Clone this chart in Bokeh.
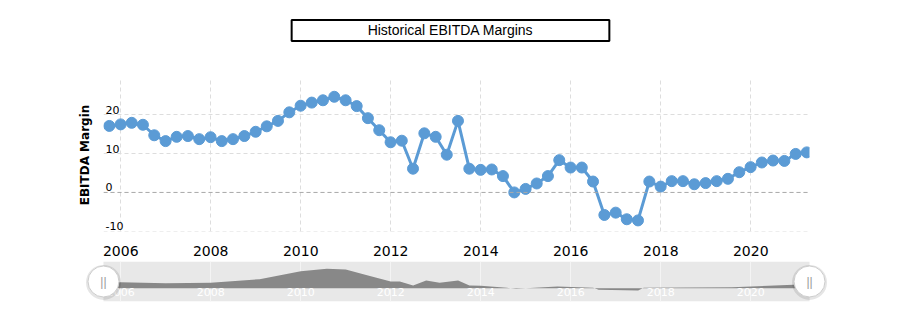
import datetime as dt
from bokeh.plotting import figure
from bokeh.models import (Range1d, FixedTicker, DatetimeTickFormatter, ColumnDataSource,
                          LabelSet, Label, Span, Grid)
from bokeh.core.properties import value
from bokeh.layouts import column, row
from bokeh.embed import file_html
from bokeh.resources import INLINE

# ---------------- data ----------------
first_quarter = (2005, 3)   # Q3 2005
n_quarters = 63
margins = [17.1, 17.5, 17.9, 17.4, 14.7, 13.2, 14.3, 14.5, 13.7, 14.2,
           13.2, 13.7, 14.5, 15.6, 17.0, 18.4, 20.6, 22.3, 23.1, 23.7,
           24.6, 23.7, 22.2, 19.1, 16.0, 12.9, 13.3, 6.1, 15.2, 14.3,
           9.7, 18.4, 6.1, 5.8, 5.9, 4.2, 0.0, 0.9, 2.3, 4.2,
           8.3, 6.4, 6.4, 2.8, -5.8, -5.2, -6.9, -7.2, 2.8, 1.5,
           2.9, 2.9, 2.1, 2.4, 2.9, 3.5, 5.2, 6.5, 7.7, 8.2,
           8.1, 9.9, 10.3]

nav_dates = ["2005-09-30", "2006-01-01", "2007-01-01", "2008-01-01", "2009-02-01",
             "2010-01-01", "2010-08-01", "2011-01-01", "2011-07-01", "2012-01-01",
             "2012-03-15", "2012-07-01", "2012-10-15", "2013-02-01", "2013-07-01",
             "2013-10-01", "2014-01-01", "2014-08-01", "2014-10-15", "2015-01-01",
             "2015-09-15", "2016-07-01", "2016-08-15", "2017-07-01", "2017-08-15",
             "2019-08-01", "2021-02-01", "2021-03-31"]
nav_values = [7.6, 7.6, 6.3, 6.8, 11.5, 21.5, 24.6, 23.7, 16.1, 8.5,
              8.5, 3.4, 9.7, 6.8, 9.7, 3.4, 3.0, 0.5, -0.8, 0.0,
              2.2, 0.5, -2.0, -2.9, 0.5, 1.3, 4.7, 5.3]

y_ticks = [-10, 0, 10, 20]
x_tick_years = [2006, 2008, 2010, 2012, 2014, 2016, 2018, 2020]

title_text = "Historical EBITDA Margins"
y_title = "EBITDA Margin"

# ---------------- helpers ----------------
def quarter_end(year, q):
    month = q * 3
    nxt = dt.datetime(year + (month // 12), (month % 12) + 1, 1)
    return nxt - dt.timedelta(days=1)

dates = []
y0, q0 = first_quarter
for i in range(n_quarters):
    k = (q0 - 1) + i
    dates.append(quarter_end(y0 + k // 4, k % 4 + 1))

nav_dt = [dt.datetime.strptime(s, "%Y-%m-%d") for s in nav_dates]
tick_dt = [dt.datetime(y, 1, 1) for y in x_tick_years]
tick_ms = [(d - dt.datetime(1970, 1, 1)).total_seconds() * 1000 for d in tick_dt]

x_start = dt.datetime(2005, 8, 14)
x_end = dt.datetime(2021, 4, 22)
nav_pad = dt.timedelta(days=146)   # room for the navigator handles

LINE = "#5b9bd5"
FONT = "DejaVu Sans"

# ---------------- title strip ----------------
t = figure(width=902, height=50, x_range=Range1d(0, 1), y_range=Range1d(0, 1),
           x_axis_location=None, y_axis_location=None,
           output_backend="svg", toolbar_location=None, min_border=0,
           outline_line_color=None, background_fill_color="white",
           border_fill_color="white")
t.grid.visible = False
t.add_layout(Label(x=450, y=20, x_units="screen", y_units="screen", text=title_text,
                   text_align="center", text_baseline="middle",
                   text_font="Liberation Sans", text_font_size="14px",
                   text_color="black", border_line_color="black", border_line_width=2,
                   background_fill_color="white",
                   padding=dict(left=76, right=76, top=2, bottom=3)))

# ---------------- main chart ----------------
p = figure(width=902, height=208, x_axis_type="datetime",
           x_range=Range1d(x_start, x_end), y_range=Range1d(-10.05, 29.3),
           output_backend="svg", toolbar_location=None,
           min_border_left=103, min_border_right=93, min_border_top=28,
           min_border_bottom=26, outline_line_color=None,
           background_fill_color="white", border_fill_color="white")

p.xaxis.ticker = FixedTicker(ticks=tick_ms)
p.xaxis.formatter = DatetimeTickFormatter(years="%Y", months="%Y", days="%Y")
p.xaxis.axis_line_color = None
p.xaxis.major_tick_line_color = None
p.xaxis.minor_tick_line_color = None
p.xaxis.major_label_text_font = FONT
p.xaxis.major_label_text_font_size = "14px"
p.xaxis.major_label_text_color = "black"
p.xaxis.major_label_standoff = 8

p.yaxis.ticker = FixedTicker(ticks=[])
p.yaxis.axis_line_color = None
p.yaxis.major_tick_line_color = None
p.yaxis.minor_tick_line_color = None
p.yaxis.major_tick_out = 0
p.yaxis.major_label_standoff = 0
p.yaxis.axis_label = y_title
p.yaxis.axis_label_text_font = FONT
p.yaxis.axis_label_text_font_size = "12px"
p.yaxis.axis_label_text_font_style = "bold"
p.yaxis.axis_label_text_color = "black"
p.yaxis.axis_label_standoff = 12

p.xgrid.ticker = FixedTicker(ticks=tick_ms)
p.xgrid.grid_line_color = "#dddddd"
p.xgrid.grid_line_dash = "4 3"
p.ygrid.ticker = FixedTicker(ticks=y_ticks)
p.ygrid.grid_line_color = "#dddddd"
p.ygrid.grid_line_dash = "4 3"

p.add_layout(Span(location=0, dimension="width", line_color="#aaaaaa",
                  line_dash="4 3", line_width=1))

ysrc = ColumnDataSource(dict(y=y_ticks, text=[str(v) for v in y_ticks]))
p.add_layout(LabelSet(x=2, x_units="screen", y="y", text="text", source=ysrc,
                      text_align="left", text_baseline="bottom", y_offset=1,
                      text_font=value(FONT), text_font_size=value("11px"),
                      text_color="black"))

src = ColumnDataSource(dict(x=dates, y=margins))
p.line("x", "y", source=src, line_width=3, line_color=LINE)
p.scatter("x", "y", source=src, size=11, fill_color=LINE, line_color=LINE)

# ---------------- navigator ----------------
nav_y0, nav_y1 = -16.8, 33.8
n = figure(width=902, height=68, x_axis_type="datetime",
           x_range=Range1d(x_start - nav_pad, x_end + nav_pad),
           y_range=Range1d(nav_y0, nav_y1),
           x_axis_location=None, y_axis_location=None,
           output_backend="svg", toolbar_location=None,
           min_border_left=85, min_border_right=75, min_border_top=3,
           min_border_bottom=25, outline_line_color=None,
           background_fill_color="white", border_fill_color="white")
n.grid.visible = False

n.quad(left=[x_start], right=[x_end], bottom=[nav_y0], top=[nav_y1],
       fill_color="#e8e8e8", line_color=None, level="image")
n.add_layout(Grid(dimension=0, ticker=FixedTicker(ticks=tick_ms),
                  grid_line_color="#f4f4f4", grid_line_width=1))

n.varea(x=nav_dt, y1=[0] * len(nav_dt), y2=nav_values, fill_color="#888888")

nsrc = ColumnDataSource(dict(x=tick_dt, text=[str(y) for y in x_tick_years]))
n.add_layout(LabelSet(x="x", y=10, y_units="screen", text="text", source=nsrc,
                      text_align="center", text_baseline="middle",
                      text_font=value(FONT), text_font_size=value("11px"),
                      text_color="white"))

hy = (nav_y0 + nav_y1) / 2
hx = [x_start, x_end]
n.scatter(hx, [hy - 1.2, hy - 1.2], size=35, fill_color="black", fill_alpha=0.10,
          line_color=None, level="overlay")
n.scatter(hx, [hy, hy], size=31, fill_color="white", line_color="#cccccc",
          line_width=1, level="overlay")
n.text(hx, [hy, hy], text=["||", "||"], text_align="center", text_baseline="middle",
       text_color="#999999", text_font_size="12px", level="overlay")

layout = column(row(t), p, row(n), spacing=0)
open("out.html", "w").write(file_html(layout, INLINE))
